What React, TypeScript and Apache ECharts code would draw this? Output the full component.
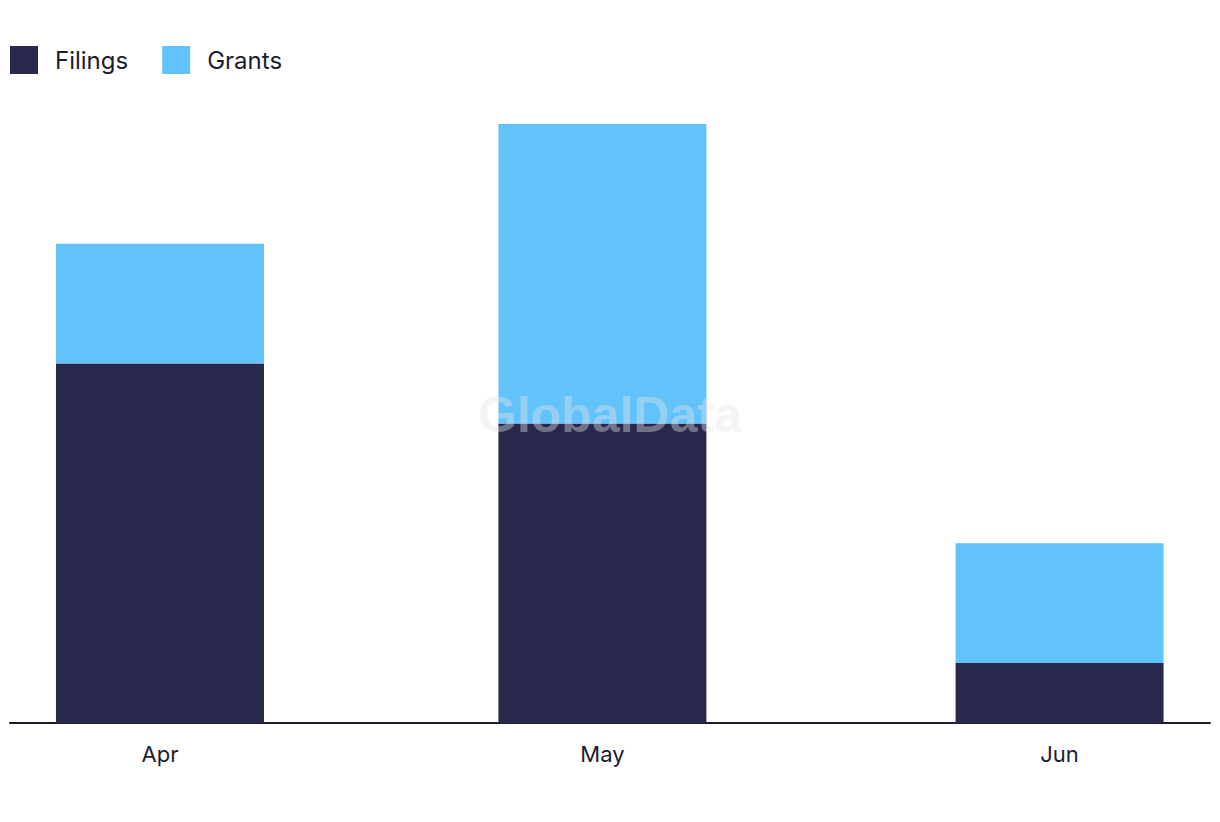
import React, { useEffect, useRef } from "react";
import * as echarts from "echarts";

const months: string[] = ["Apr", "May", "Jun"];
const monthDates: string[] = ["2024-04-01", "2024-05-01", "2024-06-01"];
const filings: number[] = [6, 5, 1];
const grants: number[] = [2, 5, 2];

const DAY = 24 * 3600 * 1000;
const BAR_W = 208;

export default function App() {
  const ref = useRef<HTMLDivElement>(null);
  useEffect(() => {
    if (!ref.current) return;
    const chart = echarts.init(ref.current, undefined, { renderer: "svg" });
    const t0 = Date.parse(monthDates[0] + "T00:00:00Z");
    const days = monthDates.map((d) => Math.round((Date.parse(d + "T00:00:00Z") - t0) / DAY));
    const labelFor = (v: number) => {
      const i = days.findIndex((t) => Math.abs(t - v) < 0.5);
      return i >= 0 ? months[i] : "";
    };
    const fontFamily = "Inter, 'Noto Sans', sans-serif";
    const renderItem = (_params: any, api: any) => {
      const x = api.value(0);
      const lo = api.value(1);
      const hi = api.value(2);
      const p0 = api.coord([x, lo]);
      const p1 = api.coord([x, hi]);
      return {
        type: "rect",
        shape: { x: p0[0] - BAR_W / 2, y: p1[1], width: BAR_W, height: p0[1] - p1[1] },
        style: api.style(),
      };
    };
    chart.setOption({
      animation: false,
      textStyle: { fontFamily },
      legend: {
        left: 10,
        top: 46,
        padding: 0,
        itemWidth: 28,
        itemHeight: 28,
        itemGap: 34,
        icon: "rect",
        textStyle: { fontSize: 24, color: "#1c1c30", fontFamily, padding: [0, 0, 6, 12] },
        data: ["Filings", "Grants"],
      },
      grid: { left: 10, right: 10, top: 124, bottom: 99, containLabel: false },
      xAxis: {
        type: "value",
        min: days[0] - 10.17,
        max: days[2] + 10.2,
        axisLine: { show: true, lineStyle: { color: "#1c1c30", width: 2 } },
        axisTick: { show: false },
        splitLine: { show: false },
        axisLabel: {
          customValues: days,
          formatter: (v: number) => labelFor(v),
          fontSize: 22,
          color: "#1c1c30",
          margin: 20,
          fontFamily,
          hideOverlap: false,
        },
      },
      yAxis: {
        type: "value",
        min: 0,
        max: 10,
        show: false,
        splitLine: { show: false },
      },
      graphic: [
        {
          type: "text",
          left: "center",
          top: 390,
          z: 100,
          style: {
            text: "GlobalData",
            fontSize: 50,
            fontWeight: "bold",
            fontFamily: "'Liberation Sans', Arial, sans-serif",
            fill: "rgba(228,228,228,0.4)",
          },
        },
      ],
      series: [
        {
          name: "Filings",
          type: "custom",
          renderItem,
          itemStyle: { color: "#28284c" },
          encode: { x: 0, y: [1, 2] },
          data: days.map((t, i) => [t, 0, filings[i]]),
        },
        {
          name: "Grants",
          type: "custom",
          renderItem,
          itemStyle: { color: "#62c2fa" },
          encode: { x: 0, y: [1, 2] },
          data: days.map((t, i) => [t, filings[i], filings[i] + grants[i]]),
        },
      ],
    });
    return () => chart.dispose();
  }, []);
  return (
    <div
      ref={ref}
      style={{ position: "fixed", left: 0, top: 0, width: 1220, height: 822, background: "#fff" }}
    />
  );
}
